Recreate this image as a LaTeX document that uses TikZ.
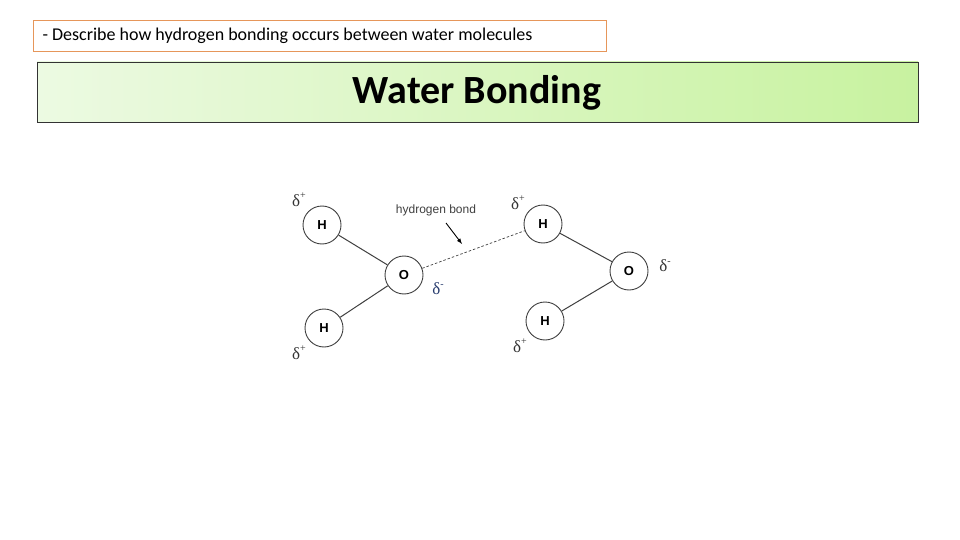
\documentclass[tikz,border=0pt]{standalone}
\usepackage{fontspec}
\setmainfont{Carlito}
\newfontfamily\arial{Liberation Sans}
\newfontfamily\tnr{Liberation Serif}
\newcommand{\dpl}{{\tnr δ\raisebox{0.45em}{\fontsize{10}{10}\selectfont +}}}
\newcommand{\dmi}{{\tnr δ\raisebox{0.45em}{\fontsize{10}{10}\selectfont -}}}
\begin{document}
\begin{tikzpicture}[x=1pt,y=-1pt,
  atom/.style={circle,draw=black!75,line width=0.9pt,minimum size=38pt,inner sep=0pt,font=\arial\bfseries\fontsize{13}{13}\selectfont},
  dl/.style={font=\fontsize{17}{17}\selectfont,text=black!80,inner sep=0pt},
  bond/.style={draw=black!75,line width=1pt}]
\useasboundingbox (0,0) rectangle (960,540);
\fill[white] (0,0) rectangle (960,540);
\node[draw={rgb,255:red,230;green,150;blue,90},line width=1.2pt,minimum width=573pt,minimum height=31pt,anchor=north west,inner sep=0pt] (obj) at (33,20) {};
\node[anchor=west,font=\fontsize{18}{18}\selectfont] (objt) at (39,36) {- Describe how hydrogen bonding occurs between water molecules};
\shade[left color={rgb,255:red,236;green,250;blue,226},right color={rgb,255:red,200;green,242;blue,160}] (37,62) rectangle (918,122);
\node[draw=black!80,line width=0.7pt,minimum width=881pt,minimum height=60pt,anchor=north west,inner sep=0pt] (tb) at (37,62) {};
\node[font=\bfseries\fontsize{40}{40}\selectfont] (title) at (477,93) {Water Bonding};
\node[atom] (h1) at (322,225) {H};
\node[atom] (o1) at (404,275) {O};
\node[atom] (h2) at (324,328) {H};
\node[atom] (h3) at (543,224) {H};
\node[atom] (o2) at (629,271) {O};
\node[atom] (h4) at (545,321) {H};
\draw[bond] (h1) -- (o1);
\draw[bond] (h2) -- (o1);
\draw[bond] (h3) -- (o2);
\draw[bond] (h4) -- (o2);
\draw[bond,dash pattern=on 2.5pt off 2pt,line width=0.7pt] (o1) -- (h3);
\node[font=\arial\fontsize{12}{12}\selectfont,text=black!75] (hb) at (436,210) {hydrogen bond};
\coordinate (a1) at (446,223);
\coordinate (a2) at (462,244);
\draw[-latex,line width=0.9pt] (a1) -- (a2);
\node[dl] (d1) at (299,200) {\dpl};
\node[dl] (d2) at (299,353) {\dpl};
\node[dl] (d3) at (518,203) {\dpl};
\node[dl] (d4) at (520,346) {\dpl};
\node[dl,text={rgb,255:red,40;green,60;blue,110}] (d5) at (438,289) {\dmi};
\node[dl] (d6) at (665,266) {\dmi};
\end{tikzpicture}
\end{document}
